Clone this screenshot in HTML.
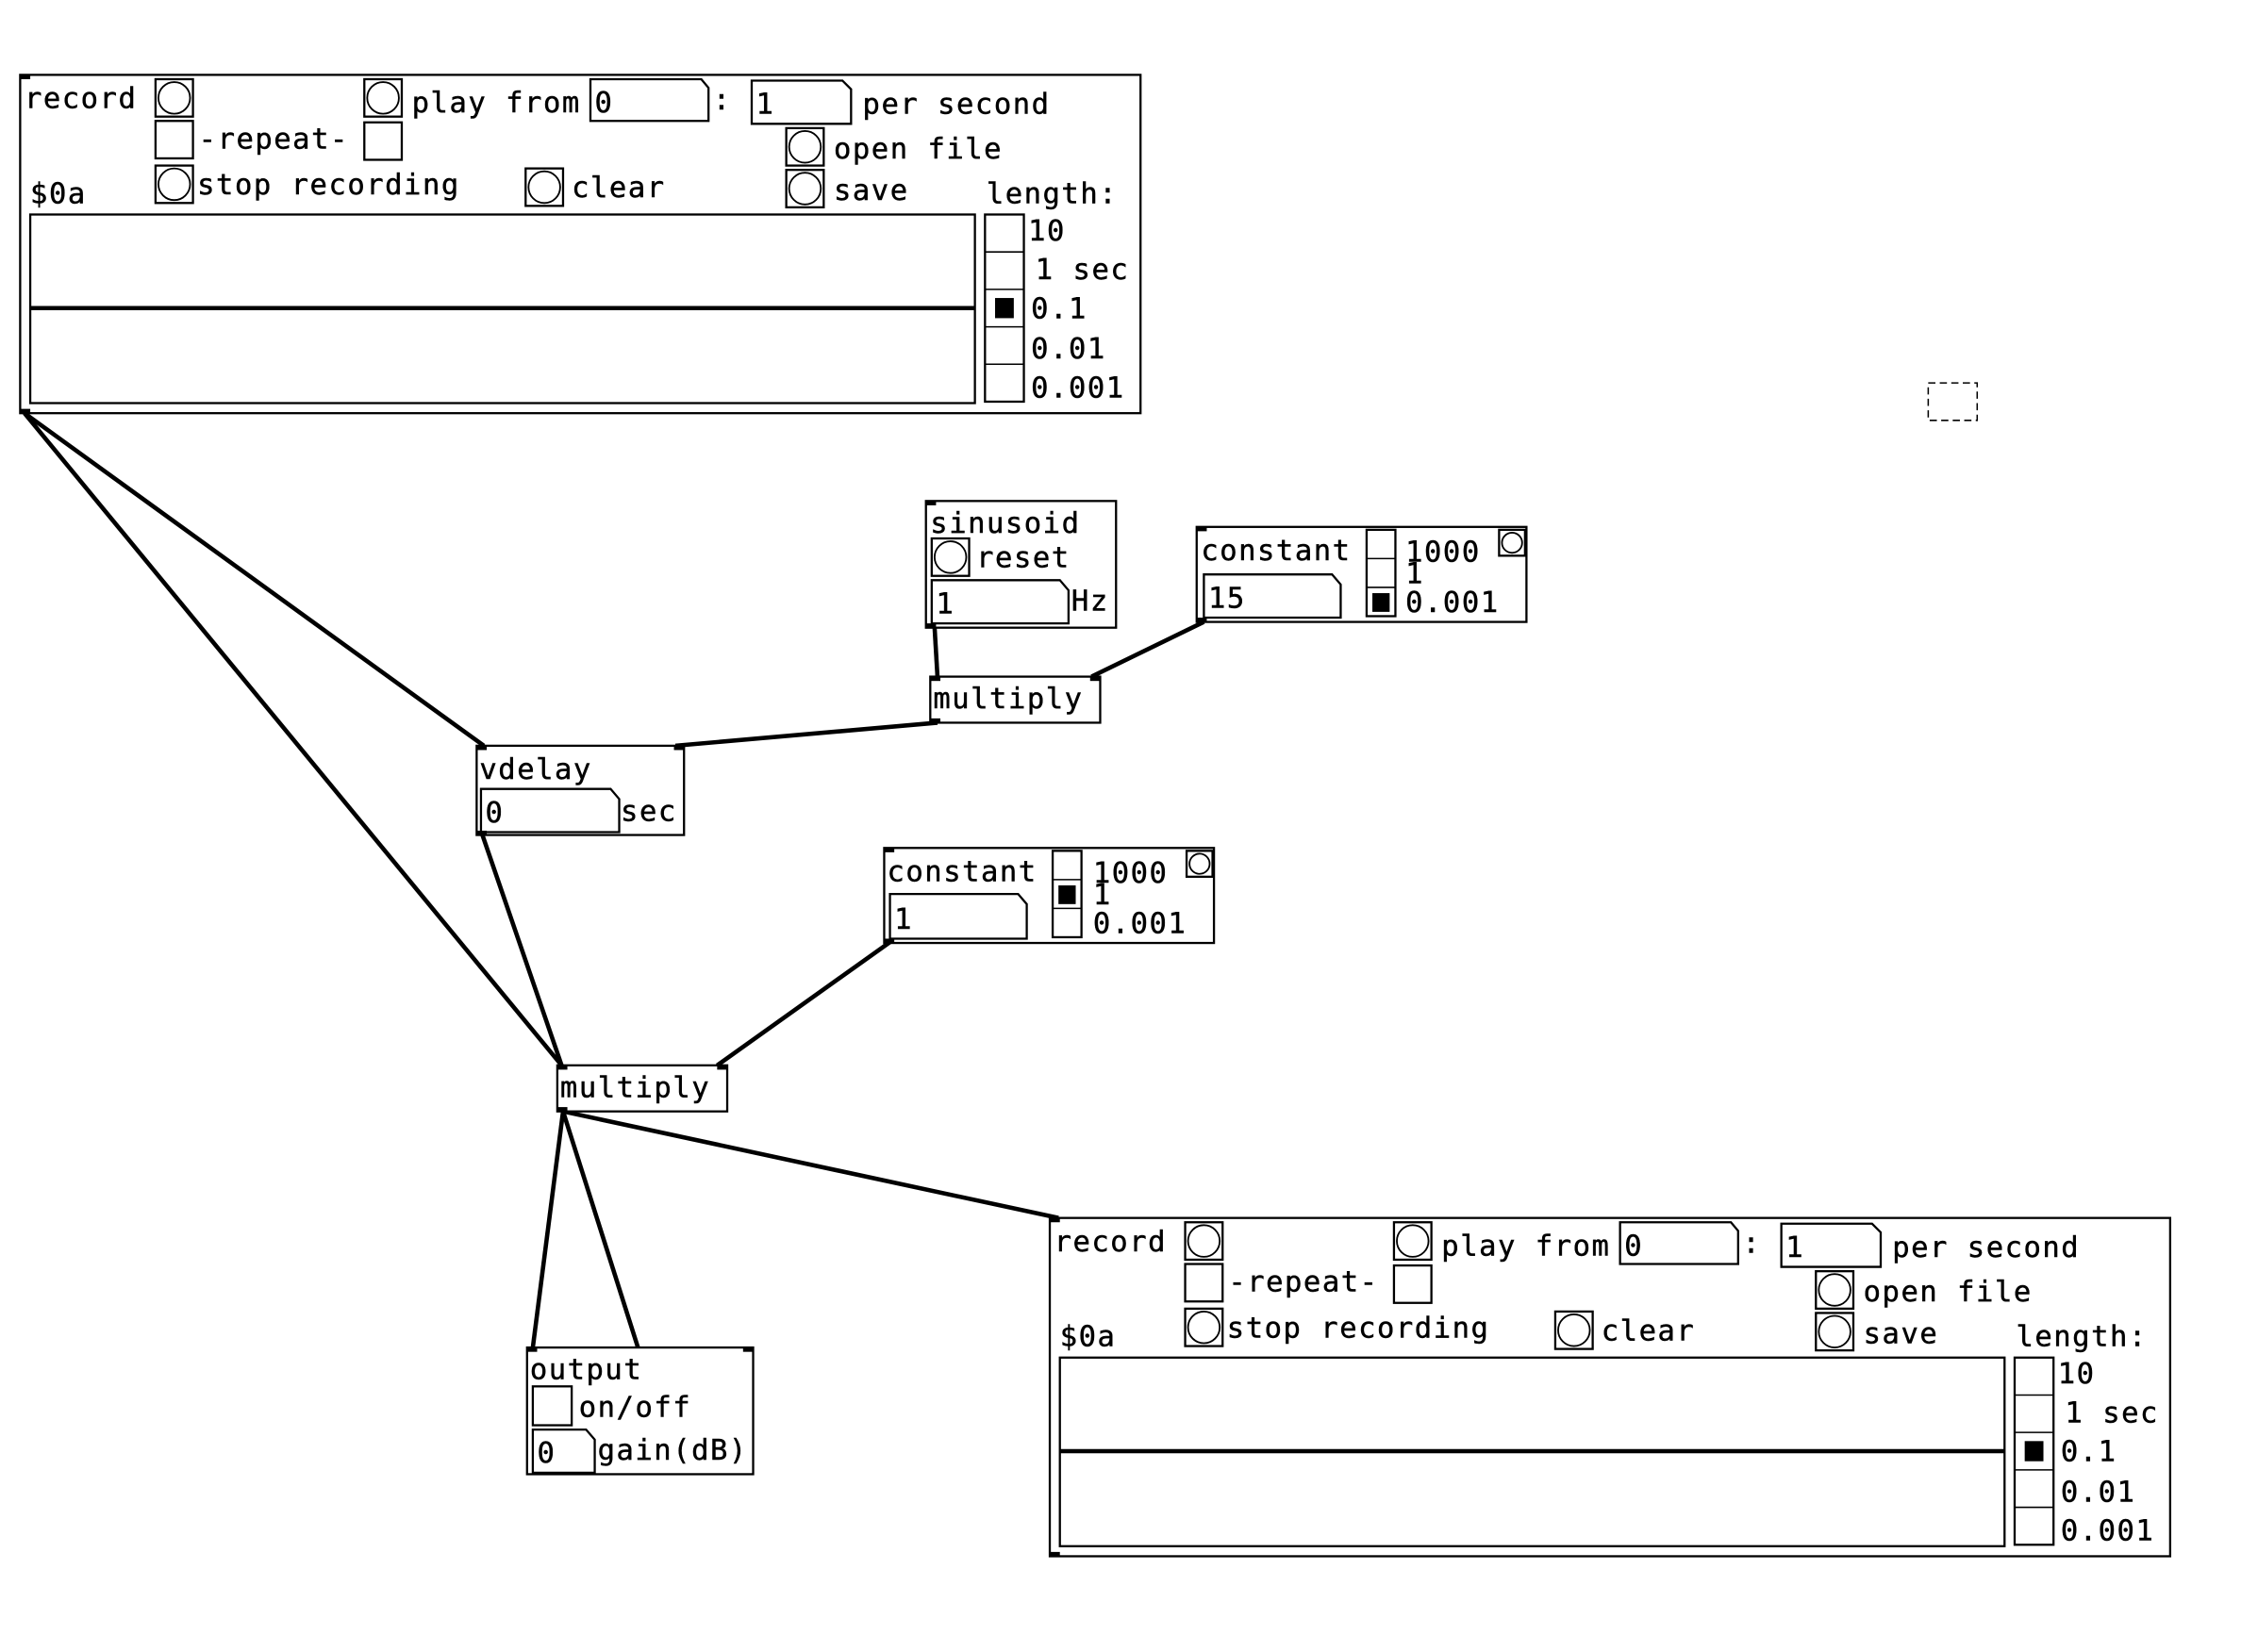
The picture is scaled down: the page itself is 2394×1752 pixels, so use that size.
<!DOCTYPE html>
<html><head><meta charset="utf-8"><style>
html,body{margin:0;padding:0;background:#fff;}
svg{display:block}
text{font-family:"DejaVu Sans Mono","Liberation Mono",monospace;font-size:20px;letter-spacing:1px;fill:#000;stroke:#000;stroke-width:0.3}
.b{fill:#fff;stroke:#000;stroke-width:1.5}
.c{fill:none;stroke:#000;stroke-width:1.2}
.w{stroke:#000;stroke-width:3;fill:none}
</style></head><body>
<svg width="2394" height="1752" viewBox="0 0 1568 1147.5" preserveAspectRatio="none" xmlns="http://www.w3.org/2000/svg">
<defs>
<g id="rec">
<rect class="b" x="14" y="52" width="778" height="235"/>
<rect x="14" y="52" width="7" height="3"/><rect x="14" y="284" width="7" height="3"/>
<text x="17" y="75">record</text>
<rect class="b" x="108" y="55" width="26" height="26"/><circle class="c" cx="121" cy="68" r="11"/>
<rect class="b" x="253" y="55" width="26" height="26"/><circle class="c" cx="266" cy="68" r="11"/>
<text x="286" y="78">play from</text>
<path class="b" d="M410 55 H487 L492 61 V84 H410 Z"/><text x="413" y="78">0</text>
<text x="495" y="76">:</text>
<path class="b" d="M522 56 H585 L591 62 V86 H522 Z"/><text x="525" y="79">1</text>
<text x="599" y="79">per second</text>
<rect class="b" x="108" y="84" width="26" height="26"/>
<text x="138" y="103">-repeat-</text>
<rect class="b" x="253" y="85" width="26" height="26"/>
<rect class="b" x="546" y="89" width="26" height="26"/><circle class="c" cx="559" cy="102" r="11"/>
<text x="579" y="110">open file</text>
<rect class="b" x="108" y="115" width="26" height="26"/><circle class="c" cx="121" cy="128" r="11"/>
<text x="137" y="135">stop recording</text>
<rect class="b" x="365" y="117" width="26" height="26"/><circle class="c" cx="378" cy="130" r="11"/>
<text x="397" y="137">clear</text>
<rect class="b" x="546" y="118" width="26" height="26"/><circle class="c" cx="559" cy="131" r="11"/>
<text x="579" y="139">save</text>
<text x="21" y="141">$0a</text>
<text x="685" y="141">length:</text>
<rect class="b" x="21" y="149" width="656" height="131"/>
<line x1="21" y1="214" x2="677" y2="214" stroke="#000" stroke-width="3"/>
<rect class="b" x="684" y="149" width="27" height="130"/>
<line x1="684" y1="175" x2="711" y2="175" stroke="#000"/><line x1="684" y1="201" x2="711" y2="201" stroke="#000"/>
<line x1="684" y1="227" x2="711" y2="227" stroke="#000"/><line x1="684" y1="253" x2="711" y2="253" stroke="#000"/>
<rect x="691" y="207" width="13" height="14"/>
<text x="714" y="167">10</text><text x="719" y="194">1 sec</text><text x="716" y="221">0.1</text>
<text x="716" y="249">0.01</text><text x="716" y="276">0.001</text>
</g>
</defs>
<use href="#rec"/>
<use href="#rec" transform="translate(715,794)"/>
<rect x="1339" y="266" width="34" height="26" fill="none" stroke="#000" stroke-width="1" stroke-dasharray="5,3"/>

<line class="w" x1="17" y1="287" x2="336" y2="518"/>
<line class="w" x1="17" y1="287" x2="390" y2="740"/>
<line class="w" x1="649" y1="436" x2="651" y2="470"/>
<line class="w" x1="836" y1="432" x2="758" y2="470"/>
<line class="w" x1="651" y1="502" x2="469" y2="518"/>
<line class="w" x1="335" y1="580" x2="390" y2="740"/>
<line class="w" x1="620" y1="653" x2="498" y2="740"/>
<line class="w" x1="391" y1="772" x2="370" y2="936"/>
<line class="w" x1="391" y1="772" x2="443" y2="936"/>
<line class="w" x1="391" y1="772" x2="735" y2="846"/>

<rect class="b" x="643" y="348" width="132" height="88"/>
<text x="646" y="370">sinusoid</text>
<rect class="b" x="647" y="374" width="26" height="26"/><circle class="c" cx="660" cy="387" r="11"/>
<text x="678" y="394">reset</text>
<path class="b" d="M647 403 H736 L742 410 V433 H647 Z"/><text x="650" y="426">1</text>
<text x="744" y="424">Hz</text>

<rect class="b" x="831" y="366" width="229" height="66"/>
<text x="834" y="389">constant</text>
<path class="b" d="M836 399 H925 L931 406 V429 H836 Z"/><text x="839" y="422">15</text>
<rect class="b" x="949" y="368" width="20" height="60"/>
<line x1="949" y1="388" x2="969" y2="388" stroke="#000"/><line x1="949" y1="408" x2="969" y2="408" stroke="#000"/>
<rect x="953" y="412" width="12" height="13"/>
<text x="976" y="390">1000</text><text x="976" y="405">1</text><text x="976" y="425">0.001</text>
<rect class="b" x="1041" y="368" width="18" height="18"/><circle class="c" cx="1050" cy="377" r="7"/>

<rect class="b" x="646" y="470" width="118" height="32"/>
<text x="648" y="492">multiply</text>

<rect class="b" x="331" y="518" width="144" height="62"/>
<text x="333" y="541">vdelay</text>
<path class="b" d="M334 548 H424 L430 555 V578 H334 Z"/><text x="337" y="571">0</text>
<text x="431" y="570">sec</text>

<rect class="b" x="614" y="589" width="229" height="66"/>
<text x="616" y="612">constant</text>
<path class="b" d="M618 621 H707 L713 628 V652 H618 Z"/><text x="621" y="645">1</text>
<rect class="b" x="731" y="591" width="20" height="60"/>
<line x1="731" y1="611" x2="751" y2="611" stroke="#000"/><line x1="731" y1="631" x2="751" y2="631" stroke="#000"/>
<rect x="735" y="615" width="12" height="13"/>
<text x="759" y="613">1000</text><text x="759" y="628">1</text><text x="759" y="648">0.001</text>
<rect class="b" x="824" y="591" width="18" height="18"/><circle class="c" cx="833" cy="600" r="7"/>

<rect class="b" x="387" y="740" width="118" height="32"/>
<text x="389" y="762">multiply</text>

<rect class="b" x="366" y="936" width="157" height="88"/>
<text x="368" y="958">output</text>
<rect class="b" x="370" y="963" width="27" height="27"/>
<text x="402" y="984">on/off</text>
<path class="b" d="M370 993 H407 L413 1000 V1023 H370 Z"/><text x="373" y="1016">0</text>
<text x="415" y="1014">gain(dB)</text>

<g fill="#000">
<rect x="643" y="348" width="7" height="3"/><rect x="643" y="433" width="7" height="3"/>
<rect x="831" y="366" width="7" height="3"/><rect x="831" y="429" width="7" height="3"/>
<rect x="646" y="470" width="7" height="3"/><rect x="757" y="470" width="7" height="3"/><rect x="646" y="499" width="7" height="3"/>
<rect x="331" y="518" width="7" height="3"/><rect x="468" y="518" width="7" height="3"/><rect x="331" y="577" width="7" height="3"/>
<rect x="614" y="589" width="7" height="3"/><rect x="614" y="652" width="7" height="3"/>
<rect x="387" y="740" width="7" height="3"/><rect x="498" y="740" width="7" height="3"/><rect x="387" y="769" width="7" height="3"/>
<rect x="366" y="936" width="7" height="3"/><rect x="516" y="936" width="7" height="3"/>
</g>
</svg>
</body></html>
